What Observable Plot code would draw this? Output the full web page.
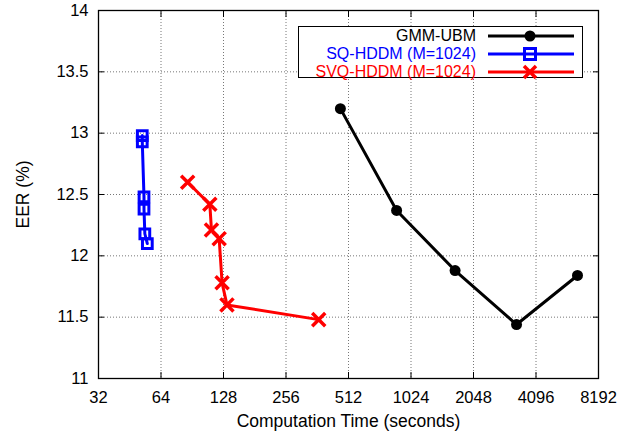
<!DOCTYPE html>
<html>
<head>
<meta charset="utf-8">
<script src="https://cdn.jsdelivr.net/npm/d3@7"></script>
<script src="https://cdn.jsdelivr.net/npm/@observablehq/plot@0.6"></script>
<style>
  body { margin: 0; background: white; font-family: "Liberation Sans", Arial, sans-serif; }
  #wrap { position: relative; width: 622px; height: 434px; }
  #legend { position: absolute; left: 298px; top: 26px; width: 285px; height: 52px; border: 1.3px solid black; background: white; box-sizing: border-box; }
  .row { position: absolute; left: 0; width: 100%; height: 18px; font-size: 16px; }
  .row span { position: absolute; right: 106px; top: 0; height: 18px; line-height: 18px; white-space: nowrap; }
  .row svg { position: absolute; left: 189px; top: 0; }
</style>
</head>
<body>
<div id="wrap"></div>
<script>
// Data
const gmmTime = [468, 873, 1670, 3300, 6490];
const gmmEER  = [13.2, 12.37, 11.88, 11.44, 11.84];

const sqTime = [52, 52, 53, 53, 53.5, 55];
const sqEER  = [12.98, 12.93, 12.48, 12.38, 12.18, 12.1];

const svqTime = [86, 110, 112, 122, 126, 133, 368];
const svqEER  = [12.6, 12.42, 12.21, 12.14, 11.78, 11.6, 11.48];

const xTicks = [32, 64, 128, 256, 512, 1024, 2048, 4096, 8192];
const yTicks = [11, 11.5, 12, 12.5, 13, 13.5, 14];

const seriesNames = ["GMM-UBM", "SQ-HDDM (M=1024)", "SVQ-HDDM (M=1024)"];
const seriesColors = ["black", "blue", "red"];

const toRows = (ts, es) => ts.map((t, i) => ({t, e: es[i]}));
const gmm = toRows(gmmTime, gmmEER);
const sq = toRows(sqTime, sqEER);
const svq = toRows(svqTime, svqEER);

const chart = Plot.plot({
  width: 622,
  height: 434,
  marginLeft: 98,
  marginRight: 24,
  marginTop: 10,
  marginBottom: 56,
  style: {fontFamily: "Liberation Sans, Arial, sans-serif", fontSize: "17px", background: "white", color: "black"},
  x: {type: "log", base: 2, domain: [32, 8192]},
  y: {domain: [11, 14]},
  marks: [
    Plot.gridX(xTicks, {stroke: "#777", strokeOpacity: 1, strokeDasharray: "1,2"}),
    Plot.gridY(yTicks, {stroke: "#777", strokeOpacity: 1, strokeDasharray: "1,2"}),
    Plot.axisX({ticks: xTicks, tickFormat: d => String(d), tickSize: 0, tickPadding: 13, fontSize: 16.5, label: null}),
    Plot.axisX({ticks: [], label: "Computation Time (seconds)", labelAnchor: "center", labelArrow: "none", labelOffset: 48, fontSize: 17.5}),
    Plot.axisX({ticks: xTicks, tickFormat: () => "", tickSize: -6, label: null}),
    Plot.axisX({anchor: "top", ticks: xTicks, tickFormat: () => "", tickSize: -6, label: null}),
    Plot.axisY({ticks: yTicks, tickFormat: d => String(d), tickSize: 0, tickPadding: 10, fontSize: 16.5, label: null}),
    Plot.axisY({ticks: [], label: "EER (%)", labelAnchor: "center", labelArrow: "none", labelOffset: 82, fontSize: 17.5}),
    Plot.axisY({ticks: yTicks, tickFormat: () => "", tickSize: -6, label: null}),
    Plot.axisY({anchor: "right", ticks: yTicks, tickFormat: () => "", tickSize: -6, label: null}),
    Plot.line(gmm, {x: "t", y: "e", stroke: seriesColors[0], strokeWidth: 3}),
    Plot.dot(gmm, {x: "t", y: "e", r: 5.5, fill: seriesColors[0], symbol: "circle"}),
    Plot.line(sq, {x: "t", y: "e", stroke: seriesColors[1], strokeWidth: 3}),
    Plot.dot(sq, {x: "t", y: "e", r: 5.5, stroke: seriesColors[1], strokeWidth: 3, fill: "none", symbol: "square"}),
    Plot.line(svq, {x: "t", y: "e", stroke: seriesColors[2], strokeWidth: 3}),
    Plot.dot(svq, {x: "t", y: "e", r: 6, stroke: seriesColors[2], strokeWidth: 3.5, symbol: "times"}),
    Plot.frame({stroke: "black", strokeWidth: 1.3})
  ]
});

const wrap = document.getElementById("wrap");
wrap.appendChild(chart);

// Legend
const legend = document.createElement("div");
legend.id = "legend";
const markerSvg = [
  '<circle cx="42" cy="9" r="5.5" fill="black"/>',
  '<rect x="36.5" y="3.5" width="11" height="11" fill="none" stroke="blue" stroke-width="3"/>',
  '<path d="M36,3L48,15M48,3L36,15" stroke="red" stroke-width="3.5"/>'
];
seriesNames.forEach((name, i) => {
  const row = document.createElement("div");
  row.className = "row";
  row.style.top = (0 + i * 18) + "px";
  row.innerHTML = `<span style="color:${seriesColors[i]}">${name}</span>` +
    `<svg width="86" height="18"><line x1="0" x2="86" y1="9" y2="9" stroke="${seriesColors[i]}" stroke-width="3"/>${markerSvg[i]}</svg>`;
  legend.appendChild(row);
});
wrap.appendChild(legend);
</script>
</body>
</html>
